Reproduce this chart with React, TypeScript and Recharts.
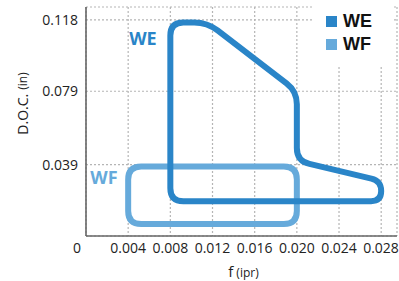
import React from 'react';
import {
  ScatterChart,
  Scatter,
  XAxis,
  YAxis,
  CartesianGrid,
  Legend,
  ReferenceDot,
} from 'recharts';

// ---- data ----
const xTicks = [0, 0.004, 0.008, 0.012, 0.016, 0.02, 0.024, 0.028];
const yTicks = [0.039, 0.079, 0.118];

const weX = [0.008, 0.0115, 0.02, 0.02, 0.028, 0.028, 0.008];
const weY = [0.1165, 0.1165, 0.079, 0.041, 0.03, 0.019, 0.019];

const wfX = [0.004, 0.02, 0.02, 0.004];
const wfY = [0.038, 0.038, 0.0065, 0.0065];

const seriesNames = ['WE', 'WF'];
const weLabelPos = { x: 0.0054, y: 0.108 };
const wfLabelPos = { x: 0.0017, y: 0.0317 };

const weData = weX.map((x, i) => ({ x, y: weY[i] }));
const wfData = wfX.map((x, i) => ({ x, y: wfY[i] }));

// ---- styles ----
const WE_COLOR = '#2a85c8';
const WF_COLOR = '#66aadb';
const FONT = '"Open Sans", sans-serif';
const LEGEND_FONT = '"Liberation Sans", Arial, sans-serif';

const fmt = (v: number) => (v === 0 ? '0' : v.toFixed(3));

function roundedClosedPath(pts: { x: number; y: number }[], r: number) {
  const n = pts.length;
  let d = '';
  for (let i = 0; i < n; i++) {
    const p0 = pts[(i - 1 + n) % n];
    const p1 = pts[i];
    const p2 = pts[(i + 1) % n];
    const v1x = p0.x - p1.x, v1y = p0.y - p1.y;
    const v2x = p2.x - p1.x, v2y = p2.y - p1.y;
    const l1 = Math.hypot(v1x, v1y) || 1;
    const l2 = Math.hypot(v2x, v2y) || 1;
    const rr = Math.min(r, l1 / 2, l2 / 2);
    const ax = p1.x + (v1x / l1) * rr, ay = p1.y + (v1y / l1) * rr;
    const bx = p1.x + (v2x / l2) * rr, by = p1.y + (v2y / l2) * rr;
    d += (i === 0 ? `M${ax},${ay}` : `L${ax},${ay}`) + `Q${p1.x},${p1.y} ${bx},${by}`;
  }
  return d + 'Z';
}

const makeLine = (color: string) => (props: any) => (
  <path
    d={roundedClosedPath(props.points || [], 13)}
    fill="none"
    stroke={color}
    strokeWidth={6}
    strokeLinejoin="round"
  />
);

const XTick = (props: any) => {
  const { x, y, payload } = props;
  const v = payload.value;
  return (
    <text
      x={x + (v === 0 ? -9 : 0)}
      y={y}
      dy="0.71em"
      textAnchor="middle"
      fontSize={14}
      fontFamily={FONT}
      fill="#222"
    >
      {fmt(v)}
    </text>
  );
};

const YTick = (props: any) => {
  const { x, y, payload } = props;
  return (
    <text
      x={x}
      y={y}
      dy="0.355em"
      textAnchor="end"
      fontSize={14}
      fontFamily={FONT}
      fill="#222"
    >
      {fmt(payload.value)}
    </text>
  );
};

const YLabel = (props: any) => {
  const vb = props.viewBox || { x: 26, y: 7, width: 60, height: 229 };
  const cx = vb.x - 4;
  const cy = vb.y + vb.height / 2 - 18;
  return (
    <text
      x={cx}
      y={cy}
      transform={`rotate(-90 ${cx} ${cy})`}
      textAnchor="middle"
      dominantBaseline="central"
      fontFamily={FONT}
      fill="#222"
    >
      <tspan fontSize={14}>D.O.C.</tspan>
      <tspan fontSize={12} dx={4}>(in)</tspan>
    </text>
  );
};

const XLabel = (props: any) => {
  const vb = props.viewBox || { x: 86, y: 236, width: 311, height: 30 };
  const cx = vb.x + vb.width / 2 + 2;
  return (
    <text x={cx} y={277} textAnchor="middle" fontFamily={FONT} fill="#222">
      <tspan fontSize={15}>f</tspan>
      <tspan fontSize={12} dx={3}>(ipr)</tspan>
    </text>
  );
};

const LegendContent = (props: any) => {
  const payload = [...(props.payload || [])].sort(
    (a: any, b: any) => seriesNames.indexOf(a.value) - seriesNames.indexOf(b.value)
  );
  return (
    <div
      style={{
        background: '#fff',
        width: 80,
        height: 66,
        boxSizing: 'border-box',
        paddingLeft: 14,
        paddingTop: 10,
      }}
    >
      {payload.map((e: any) => (
        <div key={e.value} style={{ display: 'flex', alignItems: 'center', height: 23 }}>
          <span
            style={{
              display: 'inline-block',
              width: 11,
              height: 11,
              background: e.color,
              marginRight: 6,
            }}
          />
          <span
            style={{
              fontFamily: LEGEND_FONT,
              fontWeight: 700,
              fontSize: 18,
              color: '#111',
              lineHeight: '21px',
            }}
          >
            {e.value}
          </span>
        </div>
      ))}
    </div>
  );
};

export default function App() {
  return (
    <div style={{ position: 'absolute', left: 0, top: 0 }}>
      <ScatterChart
        width={399}
        height={281}
        margin={{ top: 7, right: 2, left: 26, bottom: 15 }}
      >
        <CartesianGrid stroke="#b5b5b5" strokeDasharray="2 2" strokeWidth={1.2} />
        <XAxis
          type="number"
          dataKey="x"
          domain={[0, 0.0295]}
          ticks={xTicks}
          height={30}
          tickLine={false}
          tickSize={6}
          tickMargin={1}
          tick={<XTick />}
          axisLine={{ stroke: '#666', strokeWidth: 1.6 }}
          allowDataOverflow
          label={{ content: <XLabel /> }}
        />
        <YAxis
          type="number"
          dataKey="y"
          domain={[0, 0.125]}
          ticks={yTicks}
          width={60}
          tickLine={false}
          tickSize={6}
          tickMargin={2}
          tick={<YTick />}
          axisLine={{ stroke: '#666', strokeWidth: 1.6 }}
          allowDataOverflow
          label={{ content: <YLabel /> }}
        />
        <Legend
          layout="horizontal"
          align="center"
          verticalAlign="middle"
          wrapperStyle={{ left: 312, top: 0, width: 80, height: 66 }}
          content={<LegendContent />}
        />
        <Scatter
          name="WF"
          data={wfData}
          fill={WF_COLOR}
          line={makeLine(WF_COLOR)}
          shape={() => <g />}
          isAnimationActive={false}
        />
        <Scatter
          name="WE"
          data={weData}
          fill={WE_COLOR}
          line={makeLine(WE_COLOR)}
          shape={() => <g />}
          isAnimationActive={false}
        />
        <ReferenceDot
          x={weLabelPos.x}
          y={weLabelPos.y}
          r={0}
          fill="none"
          stroke="none"
          label={{
            value: 'WE',
            position: 'center',
            fill: WE_COLOR,
            fontSize: 18,
            fontWeight: 700,
            fontFamily: FONT,
          }}
        />
        <ReferenceDot
          x={wfLabelPos.x}
          y={wfLabelPos.y}
          r={0}
          fill="none"
          stroke="none"
          label={{
            value: 'WF',
            position: 'center',
            fill: WF_COLOR,
            fontSize: 18,
            fontWeight: 700,
            fontFamily: FONT,
          }}
        />
      </ScatterChart>
    </div>
  );
}
